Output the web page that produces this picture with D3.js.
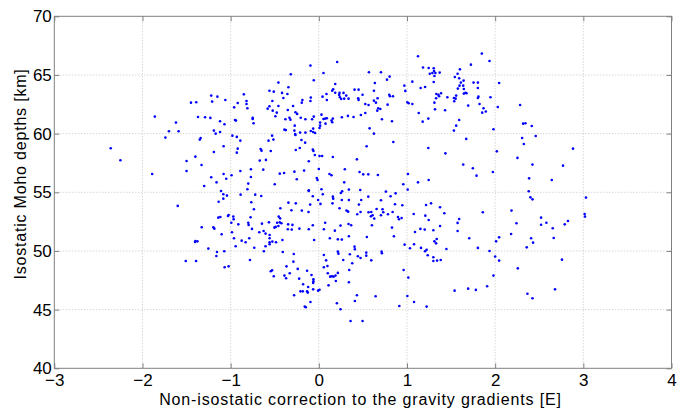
<!DOCTYPE html>
<html>
<head>
<meta charset="utf-8">
<script src="https://cdn.jsdelivr.net/npm/d3@7"></script>
<style>
  body { margin: 0; background: #fff; }
  text { font-family: "Liberation Sans", Arial, sans-serif; }
</style>
</head>
<body>
<div id="chart"></div>
<script>
// [correction (E), Moho depth (km)], grouped by area
const pts_upper_left = [
  [-0.56,63.66],[-0.85,63.35],[-1.22,63.24],[-1.15,63.15],[-1.21,62.73],[-1.45,62.64],[-1.39,62.67],[-1.06,62.87],
  [-0.92,62.61],[-0.82,62.78],[-0.82,62.53],[-0.96,62.24],[-0.81,62.16],[-0.58,62.13],[-0.56,62.33],[-1.86,61.45],
  [-1.37,61.42],[-1.29,61.39],[-1.23,61.34],[-0.95,61.16],[-0.94,61.11],[-0.75,61.34],[-0.75,61.25],[-1.12,61.05],
  [-1.62,60.94],[-1.07,60.80],[-0.74,60.88],[-1.70,60.20],[-1.59,60.20],[-1.19,60.26],[-1.12,60.14],[-1.17,60.0],
  [-0.98,59.83],[-0.93,59.72],[-0.89,59.40],[-1.74,59.66],[-1.34,59.63],[-1.35,59.49],[-0.57,59.40],[-2.36,58.75],
  [-1.08,58.92],[-0.92,58.72],[-0.93,58.38],[-0.66,58.69],[-0.65,58.55],[-1.19,58.44],[-2.25,57.73],[-1.40,58.04],
  [-1.50,57.67],[-1.33,57.33],[-0.67,57.70],[-0.60,57.76],[-0.77,56.96],[-0.63,56.93],[-1.50,56.82],[-0.89,56.82],
  [-1.89,56.56],[-1.08,56.56],[-0.99,56.45],[-1.22,56.28],[-1.05,56.16],[-0.77,56.31],[-1.16,55.85],[-0.80,55.74],
  [-1.30,55.54],[-0.81,55.26]
];

const pts_upper_mid = [
  [1.125,66.59],[0.208,66.11],[-0.095,65.80],[1.182,65.63],[1.246,65.60],[1.303,65.57],[1.307,65.34],[1.258,65.11],
  [1.288,65.17],[1.322,65.17],[1.371,65.20],[1.311,64.91],[-0.318,65.06],[0.053,65.17],[0.568,65.23],[0.705,65.23],
  [0.803,64.86],[0.773,64.60],[-0.057,64.55],[1.061,64.43],[1.303,64.40],[-0.458,64.35],[0.636,64.32],[0.970,64.09],
  [1.155,63.89],[1.205,63.98],[-0.345,63.95],[0.186,64.23],[0.163,63.78],[0.152,63.66],[0.405,63.75],[0.451,63.75],
  [-0.511,63.58],[-0.417,63.47],[-0.356,63.38],[0.235,63.47],[0.186,63.49],[0.280,63.47],[0.311,63.24],[0.625,63.66],
  [0.981,63.64],[1.333,63.38],[1.356,63.32],[1.386,63.44],[1.364,63.18],[0.042,63.15],[0.087,63.38],[0.091,62.87],
  [0.231,63.30],[0.239,63.10],[0.254,62.95],[0.288,62.98],[0.337,62.98],[0.496,63.32],[0.447,63.01],[0.451,62.87],
  [0.799,63.32],[0.807,63.18],[0.841,63.18],[0.667,63.01],[0.625,62.81],[-0.091,63.07],[-0.095,62.78],[-0.186,62.87],
  [-0.193,62.64],[-0.527,62.78],[-0.402,63.04],[1.458,63.10],[1.330,63.01],[1.004,62.67],[1.019,62.59],[1.061,62.53],
  [1.311,62.64],[0.527,62.53],[0.564,62.44],[0.648,62.64],[0.780,62.47],[-0.458,62.36],[-0.292,62.36],[0.674,62.16],
  [0.697,62.10],[0.663,61.96],[1.318,62.07],[1.432,61.99],[-0.523,61.96],[-0.477,61.79],[-0.492,61.48],[-0.352,62.02],
  [-0.265,61.82],[-0.246,61.68],[1.133,61.76],[-0.379,61.22],[-0.333,61.36],[-0.322,61.19],[-0.205,61.36],[-0.152,61.22],
  [-0.076,61.22],[-0.057,61.45],[0.053,61.25],[0.072,61.28],[0.091,61.31],[0.030,61.62],[0.144,61.11],[0.159,61.28],
  [0.152,60.97],[0.015,60.94],[0.261,61.39],[0.330,61.51],[0.394,61.42],[0.477,61.59],[0.527,61.76],[0.716,61.22],
  [0.830,61.05],[1.178,61.02],[1.242,61.28],[-0.390,60.34],[-0.375,60.30],[-0.273,60.68],[-0.277,60.26],[-0.269,59.97],
  [-0.265,59.89],[-0.212,60.09],[-0.152,60.09],[-0.091,60.23],[-0.064,60.43],[-0.064,60.14],[-0.042,60.06],[0.008,60.48],
  [0.015,60.68],[0.076,60.85],[0.576,60.45],[0.625,60.0],[-0.530,59.83],[-0.515,59.49],[-0.197,59.46],[-0.155,59.23],
  [-0.545,58.52],[-0.261,58.61],[-0.216,58.78],[-0.068,58.64],[-0.061,58.52],[-0.045,58.18],[0.008,58.10],[0.038,58.10],
  [0.159,58.01],[0.432,57.81],[0.542,58.92],[0.845,59.29],[1.242,58.78],[1.436,58.32],[-0.114,57.64],[0.0,56.99],
  [-0.443,56.59],[-0.394,56.65],[-0.277,56.76],[-0.167,56.85],[-0.25,56.11],[0.121,56.56],[0.144,56.45],[0.295,56.96],
  [0.462,56.73],[0.504,56.53],[0.561,56.53],[0.670,56.48],[0.288,55.85],[-0.023,56.22],[-0.015,56.05],[-0.5,55.68],
  [-0.114,55.17],[0.030,55.26],[0.341,55.23],[1.011,56.56],[0.958,55.68],[1.125,55.85],[1.246,56.05],[1.008,55.23]
];

const pts_upper_right = [
  [1.849,66.82],[1.936,66.19],[1.725,65.88],[1.6,65.48],[1.574,65.11],[1.543,64.83],[1.592,64.72],[1.611,64.35],
  [1.642,64.52],[1.755,64.35],[1.804,64.35],[2.045,64.32],[1.596,64.09],[1.638,64.09],[1.577,63.84],[1.645,63.81],
  [1.804,63.89],[1.664,63.49],[1.675,63.44],[1.645,63.41],[1.558,63.24],[1.532,63.04],[1.551,62.98],[1.536,62.76],
  [1.811,63.15],[1.804,63.04],[1.947,63.10],[1.823,62.53],[1.694,62.39],[2.030,62.27],[1.868,62.16],[1.894,61.88],
  [1.853,61.79],[2.283,62.44],[1.592,61.16],[2.317,60.85],[2.343,60.88],[2.415,60.65],[1.558,60.68],[1.532,60.26],
  [1.981,60.37],[1.672,59.55],[2.306,59.63],[2.460,59.80],[2.325,59.12],[2.883,58.72],[2.019,58.49],[2.253,57.93],
  [1.638,57.36],[2.423,57.36],[2.770,57.27],[1.747,57.05],[1.974,56.73],[1.789,56.42],[2.385,56.19],[2.642,56.05]
];

const pts_lower_left = [
  [-1.109,55.11],[-1.083,54.83],[-1.042,54.72],[-0.887,54.80],[-0.721,54.80],[-0.653,54.69],[-1.083,54.46],[-1.136,54.20],
  [-0.766,54.15],[-1.6,53.84],[-0.736,53.55],[-1.140,52.84],[-1.117,52.90],[-1.030,52.98],[-1.023,53.07],[-0.970,52.93],
  [-0.966,52.70],[-0.774,52.87],[-0.992,52.41],[-0.913,52.27],[-0.8,52.41],[-0.796,52.22],[-0.645,52.33],[-0.566,52.44],
  [-1.328,52.02],[-1.196,52.02],[-1.185,51.90],[-0.758,51.88],[-1.102,51.42],[-0.985,51.59],[-0.675,51.59],[-0.626,51.70],
  [-0.604,51.48],[-0.558,51.36],[-0.558,51.08],[-0.962,51.08],[-0.789,51.08],[-0.875,50.88],[-0.830,50.74],[-1.4,50.85],
  [-1.377,50.82],[-1.404,50.77],[-0.558,50.74],[-0.558,50.57],[-0.943,50.40],[-0.732,50.28],[-0.604,50.40],[-1.253,50.20],
  [-1.155,49.91],[-1.072,49.97],[-0.623,49.97],[-1.162,49.57],[-1.509,49.15],[-1.392,49.15],[-0.781,49.23],[-1.068,48.61],
  [-1.023,48.69]
];

const pts_lower_mid = [
  [-0.114,55.11],[-0.068,54.66],[0.045,54.83],[0.159,54.63],[0.163,54.46],[0.25,54.94],[0.265,55.09],[0.470,55.2],
  [0.561,54.63],[0.761,55.06],[0.871,54.91],[0.814,54.66],[-0.345,54.12],[-0.261,54.06],[-0.098,53.95],[-0.008,54.35],
  [0.019,54.01],[0.155,54.06],[0.261,54.35],[0.341,54.35],[0.455,53.95],[0.481,54.35],[0.705,54.32],[0.864,53.98],
  [0.947,53.89],[1.216,53.92],[1.273,54.06],[1.375,53.72],[-0.436,53.64],[-0.311,53.47],[-0.193,53.44],[-0.117,53.32],
  [0.235,53.64],[0.314,53.44],[0.333,53.35],[0.436,53.13],[0.473,53.32],[0.564,53.30],[0.595,53.32],[0.610,53.04],
  [0.591,52.95],[0.655,53.58],[0.723,53.55],[0.731,53.30],[0.705,53.04],[0.784,53.13],[0.837,53.32],[0.898,52.90],
  [0.909,52.70],[0.939,52.81],[1.076,53.15],[1.208,53.01],[1.246,52.64],[1.424,53.21],[-0.455,52.93],[-0.439,52.78],
  [-0.443,52.44],[-0.424,52.36],[-0.473,52.41],[-0.458,52.13],[-0.489,52.05],[-0.504,51.99],[-0.348,52.27],[-0.299,52.22],
  [-0.352,51.85],[-0.307,51.82],[-0.220,51.90],[-0.114,51.85],[-0.068,52.19],[0.072,52.41],[0.057,51.85],[0.182,51.73],
  [0.246,52.16],[0.337,52.30],[0.367,52.19],[0.602,52.19],[0.629,52.76],[0.830,51.99],[0.852,51.25],[-0.527,50.80],
  [-0.485,50.74],[-0.413,50.94],[-0.053,50.94],[0.125,51.08],[0.216,50.99],[0.261,50.97],[0.341,51.25],[0.405,50.37],
  [0.409,50.14],[0.545,51.19],[0.973,50.54],[1.080,50.57],[1.091,51.62],[1.152,51.88],[1.201,51.82],[1.299,51.76],
  [1.375,52.13],[1.337,51.02],[1.311,50.82],[1.330,50.65],[1.159,50.26],[1.223,50.11],[1.205,49.97],[1.034,50.23],
  [1.447,50.17],[-0.409,49.91],[-0.284,49.74],[0.057,49.66],[0.216,49.94],[0.223,49.77],[0.352,49.72],[0.473,49.40],
  [0.443,49.55],[0.538,49.86],[0.538,49.60],[0.595,49.20],[0.712,49.94],[0.716,49.80],[0.083,49.20],[0.277,49.23],
  [0.379,48.95],[1.299,49.46],[1.299,49.15],[1.341,49.18],[1.383,49.23],[1.235,49.63],[-0.530,48.35],[-0.545,48.27],
  [-0.511,47.84],[-0.367,48.69],[-0.288,49.09],[-0.330,48.10],[-0.390,47.90],[-0.371,47.67],[-0.239,48.47],[-0.133,48.32],
  [0.057,48.61],[0.098,48.72],[0.102,48.10],[0.129,47.81],[0.148,47.84],[0.167,47.81],[0.189,47.90],[0.216,48.13],
  [0.193,47.44],[0.345,48.38],[-0.083,47.95],[-0.061,47.59],[-0.061,47.41],[-0.064,47.27],[-0.223,47.64],[-0.178,47.16],
  [-0.121,46.93],[-0.133,46.56],[-0.125,46.45],[-0.064,46.73],[-0.208,46.56],[-0.182,46.56],[0.110,47.07],[0.008,46.70],
  [-0.008,46.62],[-0.280,46.22],[-0.095,45.65],[-0.159,45.26],[-0.148,45.20],[0.341,47.33],[0.432,46.22],[0.644,46.14],
  [0.409,45.74],[0.205,45.54],[0.246,45.03],[0.360,44.03],[0.496,44.03],[0.962,48.38],[1.015,47.73],[1.004,46.16],
  [0.913,45.31],[1.080,45.65],[1.223,45.26]
];

const pts_lower_right = [
  [2.381,55.09],[2.4,54.57],[2.423,54.40],[3.030,54.55],[3.015,53.15],[3.019,52.93],[1.860,53.30],[2.185,53.44],
  [1.592,52.73],[1.574,52.39],[1.574,51.70],[2.242,52.36],[2.521,52.84],[2.581,52.41],[2.521,52.24],[2.653,51.93],
  [2.789,52.27],[2.826,52.56],[2.181,51.45],[1.706,51.08],[2.045,51.16],[2.011,50.82],[2.408,51.08],[2.430,50.71],
  [2.664,51.11],[1.804,50.26],[1.936,50.0],[2.358,50.31],[2.0,49.52],[2.045,49.18],[2.758,49.26],[2.257,48.52],
  [1.981,47.90],[1.909,46.99],[1.694,46.79],[1.781,46.68],[1.540,46.62],[2.366,46.36],[2.423,45.97],[2.679,46.73]
];

const x_ticks = [-3, -2, -1, 0, 1, 2, 3, 4];
const y_ticks = [40, 45, 50, 55, 60, 65, 70];
const x_label = 'Non-isostatic correction to the gravity gradients [E]';
const y_label = 'Isostatic Moho depths [km]';

const all_pts = [].concat(pts_upper_left, pts_upper_mid, pts_upper_right,
  pts_lower_left, pts_lower_mid, pts_lower_right);

const W = 691, H = 409;
const axis_color = '#808080';
const grid_color = '#c4c4c4';

const x = d3.scaleLinear().domain([-3, 4]).range([54.3, 671.5]);
const y = d3.scaleLinear().domain([40, 70]).range([368.3, 16.3]);

const svg = d3.select('#chart').append('svg')
  .attr('width', W)
  .attr('height', H);

svg.append('rect').attr('width', W).attr('height', H).attr('fill', '#fff');

// dotted grid
svg.append('g').selectAll('line')
  .data(x_ticks.slice(1, -1))
  .enter().append('line')
    .attr('x1', d => x(d)).attr('x2', d => x(d))
    .attr('y1', y(40)).attr('y2', y(70))
    .attr('stroke', grid_color)
    .attr('stroke-dasharray', '1,2');

svg.append('g').selectAll('line')
  .data(y_ticks.slice(1, -1))
  .enter().append('line')
    .attr('x1', x(-3)).attr('x2', x(4))
    .attr('y1', d => y(d)).attr('y2', d => y(d))
    .attr('stroke', grid_color)
    .attr('stroke-dasharray', '1,2');

// points
svg.append('g').selectAll('circle')
  .data(all_pts)
  .enter().append('circle')
    .attr('cx', d => x(d[0]))
    .attr('cy', d => y(d[1]))
    .attr('r', 1.3)
    .attr('fill', '#0000ff');

function style_axis(g, show_labels) {
  g.select('.domain').remove();
  g.selectAll('.tick line').attr('stroke', axis_color);
  g.selectAll('.tick text')
    .attr('fill', '#000')
    .style('font-size', '17px')
    .style('font-family', '"Liberation Sans", Arial, sans-serif');
  if (!show_labels) g.selectAll('.tick text').remove();
}

svg.append('g')
  .attr('transform', 'translate(0,' + y(40) + ')')
  .call(d3.axisBottom(x).tickValues(x_ticks).tickSize(-5).tickPadding(5.5).tickFormat(d3.format('d')))
  .call(g => style_axis(g, true));

svg.append('g')
  .attr('transform', 'translate(0,' + y(70) + ')')
  .call(d3.axisTop(x).tickValues(x_ticks).tickSize(-5))
  .call(g => style_axis(g, false));

svg.append('g')
  .attr('transform', 'translate(' + x(-3) + ',0)')
  .call(d3.axisLeft(y).tickValues(y_ticks).tickSize(-5).tickPadding(2.5))
  .call(g => style_axis(g, true));

svg.append('g')
  .attr('transform', 'translate(' + x(4) + ',0)')
  .call(d3.axisRight(y).tickValues(y_ticks).tickSize(-5))
  .call(g => style_axis(g, false));

// box
svg.append('rect')
  .attr('x', x(-3)).attr('y', y(70))
  .attr('width', x(4) - x(-3)).attr('height', y(40) - y(70))
  .attr('fill', 'none')
  .attr('stroke', axis_color);

svg.append('text')
  .attr('x', 360.5)
  .attr('y', 405)
  .attr('text-anchor', 'middle')
  .style('font-size', '16px')
  .style('letter-spacing', '0.85px')
  .attr('fill', '#000')
  .text(x_label);

svg.append('text')
  .attr('transform', 'translate(26,174) rotate(-90)')
  .attr('text-anchor', 'middle')
  .style('font-size', '16px')
  .style('letter-spacing', '0.8px')
  .attr('fill', '#000')
  .text(y_label);
</script>
</body>
</html>
